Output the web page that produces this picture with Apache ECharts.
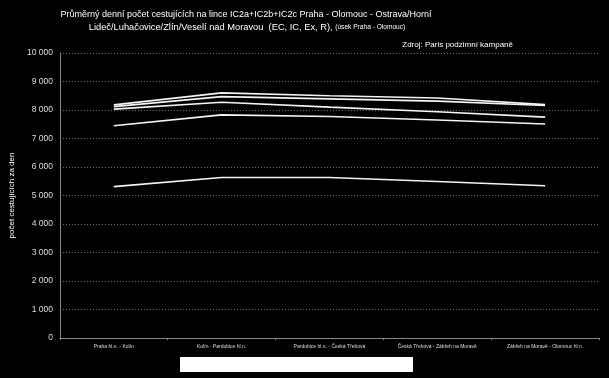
<!DOCTYPE html>
<html><head><meta charset="utf-8">
<script src="https://cdn.jsdelivr.net/npm/echarts@6/dist/echarts.min.js"></script>
<style>html,body{margin:0;padding:0;background:#000;}#c{width:609px;height:378px;}</style>
</head><body><div id="c"></div>
<script>
const categories = ["Praha hl.n. - Kolín", "Kolín - Pardubice hl.n.", "Pardubice hl.n. - Česká Třebová", "Česká Třebová - Zábřeh na Moravě", "Zábřeh na Moravě - Olomouc hl.n."];
const seriesA = [8180, 8600, 8500, 8420, 8190];
const seriesB = [8120, 8470, 8390, 8310, 8160];
const seriesC = [8030, 8270, 8100, 7940, 7750];
const seriesD = [7450, 7830, 7770, 7650, 7510];
const seriesE = [5310, 5630, 5630, 5490, 5340];
const yTicks = [0, 1000, 2000, 3000, 4000, 5000, 6000, 7000, 8000, 9000, 10000];

const chart = echarts.init(document.getElementById('c'));
const fam = 'Liberation Sans, Arial, sans-serif';
function mk(d){return {type:'line', data:d, symbol:'none', lineStyle:{color:'#f4f4f4', width:1.6}, itemStyle:{color:'#fff'}};}
chart.setOption({
  backgroundColor:'#000',
  animation:false,
  graphic:[
    {type:'text', x:246, y:10, style:{text:'Průměrný denní počet cestujících na lince IC2a+IC2b+IC2c Praha - Olomouc - Ostrava/Horní', fill:'#fff', font:'9px '+fam, align:'center', textAlign:'center'}},
    {type:'text', x:247, y:23, style:{text:'Lideč/Luhačovice/Zlín/Veselí nad Moravou  (EC, IC, Ex, R), {s|(úsek Praha - Olomouc)}', fill:'#fff', font:'9.3px '+fam, align:'center', textAlign:'center',
      rich:{s:{fontSize:6.6, fill:'#fff', fontFamily:fam}}}},
    {type:'text', right:96, top:41, style:{text:'Zdroj: Paris podzimní kampaně', fill:'#fff', font:'8px '+fam}},
    {type:'rect', shape:{x:180, y:357, width:233, height:15}, style:{fill:'#ffffff'}}
  ],
  grid:{left:59, right:10, top:53, bottom:40, containLabel:false},
  xAxis:{type:'category', data:categories, boundaryGap:true,
    axisLine:{lineStyle:{color:'#888', width:1}},
    axisTick:{show:true, lineStyle:{color:'#888'}, length:2},
    axisLabel:{color:'#ddd', fontSize:5, fontFamily:fam, margin:6}},
  yAxis:{type:'value', min:0, max:10000, interval:1000,
    name:'počet cestujících za den', nameLocation:'middle', nameGap:38, nameRotate:90,
    nameTextStyle:{color:'#fff', fontSize:8, fontFamily:fam},
    axisLine:{show:true, lineStyle:{color:'#888'}},
    axisTick:{show:false},
    splitLine:{lineStyle:{color:'#777', type:[1,2], width:1}},
    axisLabel:{color:'#ddd', fontSize:8.5, fontFamily:fam, margin:7,
      formatter:function(v){return yTicks.indexOf(v)>=0 ? String(v).replace(/\B(?=(\d{3})+(?!\d))/g,' ') : '';}}},
  series:[mk(seriesA), mk(seriesB), mk(seriesC), mk(seriesD), mk(seriesE)]
});
</script></body></html>
